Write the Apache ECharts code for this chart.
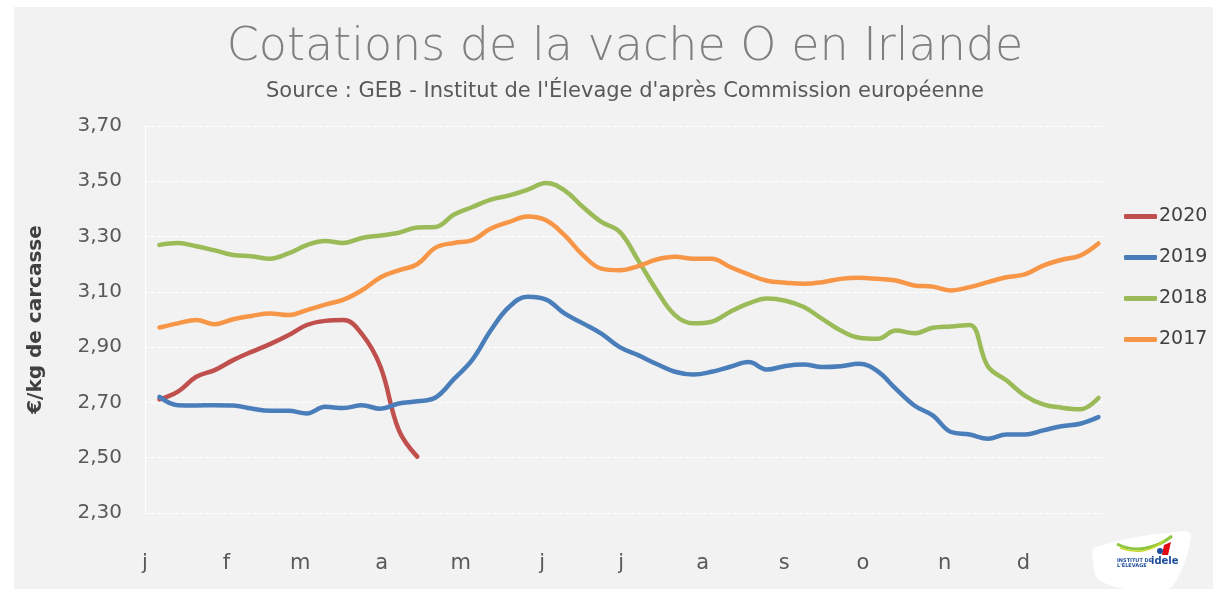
<!DOCTYPE html>
<html>
<head>
<meta charset="utf-8">
<script src="https://cdn.jsdelivr.net/npm/echarts@6/dist/echarts.min.js"></script>
<style>
html,body{margin:0;padding:0;background:#ffffff;}
#c{position:absolute;left:14px;top:7px;width:1199px;height:582px;}
</style>
</head>
<body>
<div id="c"></div>
<script>
// ---- data ----
var monthLabels = ['j','f','m','a','m','j','j','a','s','o','n','d'];
var monthStartDays = [0,31,59,90,120,151,181,212,243,273,304,334];
var yTicks = [2.30,2.50,2.70,2.90,3.10,3.30,3.50,3.70];
var seriesNames = ['2020','2019','2018','2017'];
var v2020 = [2.711,2.739,2.793,2.817,2.853,2.883,2.911,2.943,2.980,2.995,2.998,2.947,2.830,2.600,2.504];
var v2019 = [2.720,2.690,2.689,2.690,2.689,2.678,2.670,2.670,2.660,2.684,2.680,2.690,2.677,2.696,2.704,2.718,
             2.785,2.855,2.961,3.046,3.082,3.072,3.022,2.986,2.949,2.900,2.871,2.839,2.811,2.801,2.811,2.829,
             2.846,2.819,2.832,2.837,2.828,2.831,2.840,2.813,2.749,2.689,2.653,2.593,2.584,2.569,2.584,2.584,
             2.599,2.614,2.623,2.647];
var v2018 = [3.270,3.277,3.265,3.250,3.233,3.229,3.220,3.239,3.269,3.284,3.277,3.295,3.304,3.314,3.333,3.335,
             3.380,3.407,3.434,3.449,3.470,3.494,3.467,3.407,3.353,3.317,3.214,3.106,3.016,2.986,2.992,3.028,
             3.058,3.076,3.068,3.045,3.002,2.960,2.934,2.930,2.960,2.950,2.970,2.975,2.980,2.830,2.780,2.725,
             2.693,2.681,2.675,2.716];
var v2017 = [2.971,2.986,2.998,2.983,3.001,3.013,3.022,3.016,3.034,3.054,3.072,3.106,3.152,3.178,3.200,3.260,
             3.277,3.287,3.329,3.353,3.373,3.359,3.305,3.233,3.184,3.178,3.193,3.217,3.227,3.220,3.220,3.190,
             3.163,3.140,3.133,3.129,3.135,3.147,3.151,3.147,3.141,3.123,3.119,3.105,3.117,3.135,3.153,3.163,
             3.195,3.216,3.231,3.275];
var colors = {'2020':'#c0504d','2019':'#4a7ebb','2018':'#9bbb59','2017':'#f79646'};

// weekly points placed on a day-of-year axis (week index -> mid-week day)
function weekDay(i){ return 5.5 + 7*i; }
function toPairs(arr){ return arr.map(function(v,i){ return [weekDay(i), v]; }); }
var valuesByName = {'2020':v2020,'2019':v2019,'2018':v2018,'2017':v2017};

var font = '"DejaVu Sans", sans-serif';
var chart = echarts.init(document.getElementById('c'));
var option = {
  backgroundColor:'#f2f2f2',
  animation:false,
  title:[
    {text:'Cotations de la vache O en Irlande', left:606, top:13, textAlign:'center',
     textStyle:{fontFamily:font, fontSize:46, fontWeight:200, color:'#7f7f7f'}},
    {text:"Source : GEB - Institut de l'Élevage d'après Commission européenne", left:606, top:69, textAlign:'center',
     textStyle:{fontFamily:font, fontSize:21, fontWeight:'normal', color:'#595959'}}
  ],
  legend:{
    orient:'vertical', left:1110, top:200, padding:0, itemGap:22, itemWidth:33, itemHeight:5,
    icon:'roundRect',
    data:seriesNames,
    textStyle:{fontFamily:font, fontSize:19, color:'#404040', padding:[0,0,0,-3]}
  },
  grid:{left:131, right:108, top:119, bottom:76, containLabel:false},
  xAxis:{
    type:'value', min:0, max:365,
    axisLine:{show:false}, axisTick:{show:false}, splitLine:{show:false},
    axisLabel:{customValues:monthStartDays, margin:40,
      formatter:function(v){ var k=monthStartDays.indexOf(v); return k>=0?monthLabels[k]:''; },
      fontFamily:font, fontSize:21, color:'#595959'}
  },
  yAxis:{
    type:'value', min:2.3, max:3.7, interval:0.2,
    name:'€/kg de carcasse', nameLocation:'middle', nameGap:99, nameRotate:90,
    nameTextStyle:{fontFamily:font, fontSize:20, fontWeight:'bold', color:'#404040'},
    axisLine:{show:true, lineStyle:{color:'#ffffff', width:1}},
    axisTick:{show:false, customValues:yTicks},
    splitLine:{show:true, lineStyle:{color:'#ffffff', width:1, type:[4,2]}},
    axisLabel:{customValues:yTicks, margin:23, fontFamily:font, fontSize:20, color:'#595959',
      formatter:function(v){ return v.toFixed(2).replace('.',','); }}
  },
  series: seriesNames.map(function(n){
    return {name:n, type:'line', data:toPairs(valuesByName[n]), smooth:0.4, symbol:'none',
      itemStyle:{color:colors[n]}, lineStyle:{color:colors[n], width:4.5, cap:'round', join:'round'}};
  }),
  graphic:[
    {type:'polygon', z:10, shape:{points:[[1082,540],[1170,524],[1177,530],[1162,574],[1150,582],[1088,575],[1079,552]], smooth:0.45},
     style:{fill:'#ffffff'}},
    {type:'bezierCurve', z:11, shape:{x1:1103,y1:537,x2:1158,y2:529,cpx1:1120,cpy1:546,cpx2:1142,cpy2:542},
     style:{stroke:'#8dc63f', lineWidth:3, fill:null}},
    {type:'bezierCurve', z:11, shape:{x1:1106,y1:541,x2:1150,y2:533,cpx1:1122,cpy1:547,cpx2:1138,cpy2:545},
     style:{stroke:'#c8d92a', lineWidth:1.5, fill:null}},
    {type:'polygon', z:11, shape:{points:[[1150,538],[1157,535],[1154,548],[1148,548]]}, style:{fill:'#e30613'}},
    {type:'circle', z:11, shape:{cx:1146, cy:544, r:3}, style:{fill:'#1f4e9c'}},
    {type:'text', z:11, x:1103, y:551, style:{text:"INSTITUT DE\nL'ÉLEVAGE", fontSize:5, fontWeight:'bold', fill:'#1f4e9c', lineHeight:5, fontFamily:font}},
    {type:'text', z:11, x:1137, y:549, style:{text:'idele', fontSize:10, fontWeight:'bold', fill:'#1f4e9c', fontFamily:font}}
  ]
};
chart.setOption(option);
</script>
</body>
</html>
